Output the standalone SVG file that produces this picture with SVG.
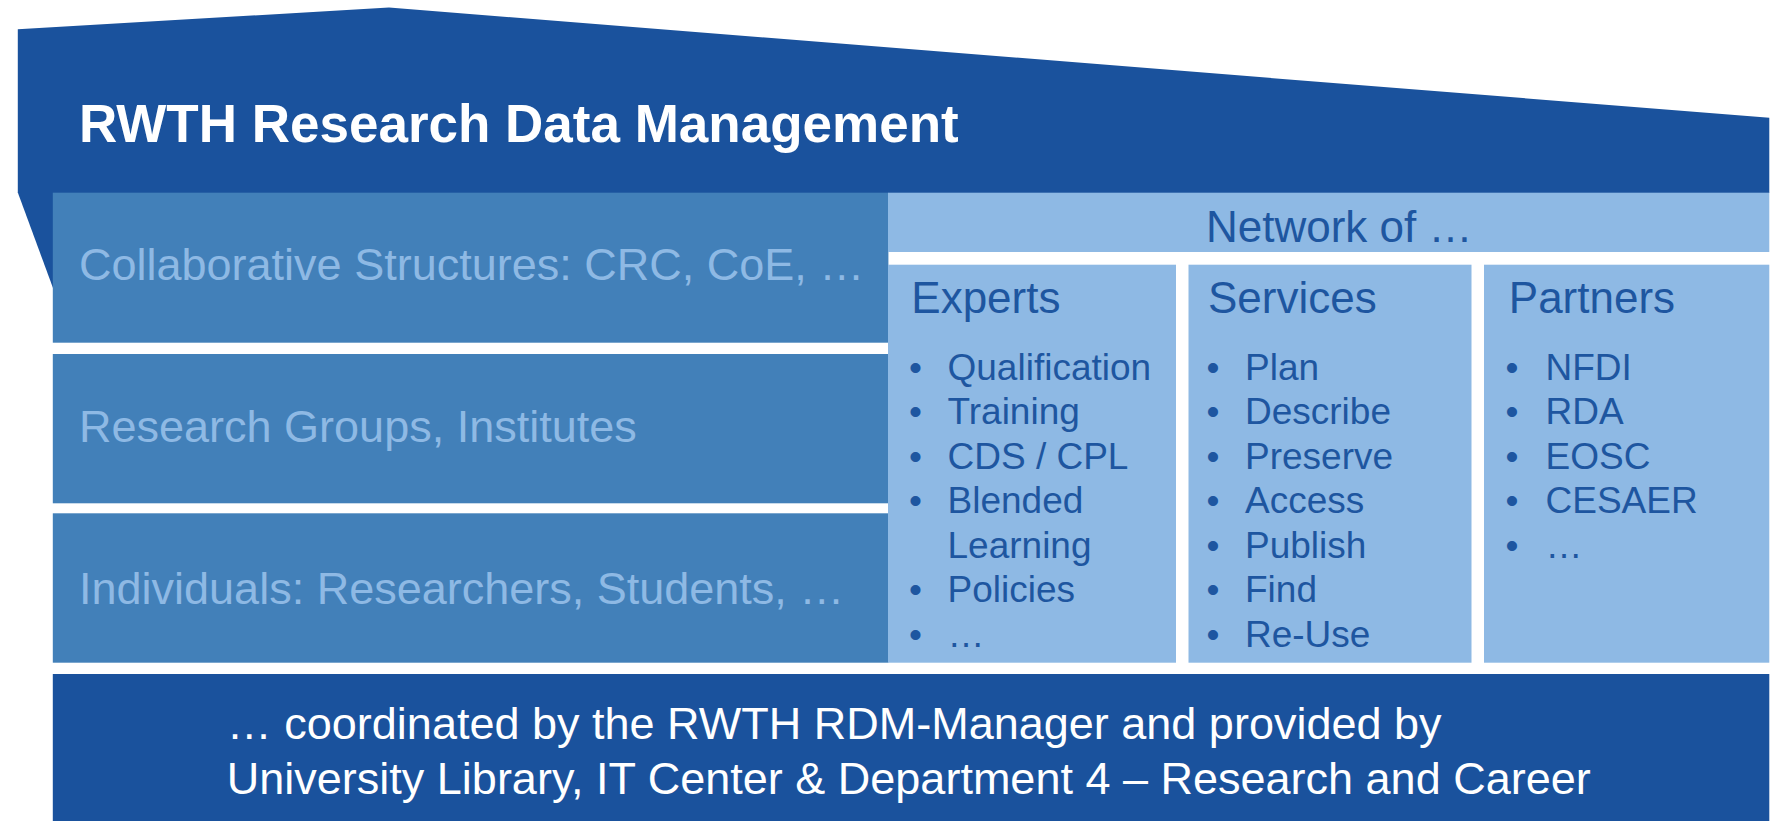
<svg xmlns="http://www.w3.org/2000/svg" width="1775" height="821" viewBox="0 0 1775 821">
<style>
.dark{fill:#1A529D}
.mid{fill:#4280B9}
.light{fill:#8EB9E4}
text{font-family:"Liberation Sans",Arial,sans-serif}
.title{font-size:53px;font-weight:bold;fill:#FFFFFF}
.lbl{font-size:45px;fill:#8EB9E4}
.hdr{font-size:44px;fill:#1E56A0}
.item{font-size:37px;fill:#1E56A0}
.foot{font-size:45px;fill:#FFFFFF}
</style>
<rect width="1775" height="821" fill="#FFFFFF"/>
<g id="roof">
<polygon class="dark" points="17.8,29.3 389,7.5 1769.3,117.8 1769.3,193 17.8,193"/>
<polygon class="dark" points="17.8,192.5 53,192.5 53,288"/>
<text class="title" x="79" y="141.7">RWTH Research Data Management</text>
</g>
<g id="collaborative">
<rect class="mid" x="52.8" y="192.7" width="835.6" height="150"/>
<text class="lbl" x="79" y="280">Collaborative Structures: CRC, CoE, …</text>
</g>
<g id="groups">
<rect class="mid" x="52.8" y="354" width="835.6" height="149.3"/>
<text class="lbl" x="79" y="441.7">Research Groups, Institutes</text>
</g>
<g id="individuals">
<rect class="mid" x="52.8" y="513.3" width="835.6" height="149.4"/>
<text class="lbl" x="79" y="604">Individuals: Researchers, Students, …</text>
</g>
<g id="network">
<rect class="light" x="888" y="192.7" width="881.3" height="59.3"/>
<text class="hdr" x="1206" y="242.3">Network of …</text>
</g>
<g id="experts">
<rect class="light" x="888" y="264.7" width="288" height="398"/>
<text class="hdr" x="911.3" y="312.7">Experts</text>
<g class="item">
<text x="915.4" y="379.5" text-anchor="middle">•</text><text x="947.5" y="379.5">Qualification</text>
<text x="915.4" y="424" text-anchor="middle">•</text><text x="947.5" y="424">Training</text>
<text x="915.4" y="468.6" text-anchor="middle">•</text><text x="947.5" y="468.6">CDS / CPL</text>
<text x="915.4" y="513.2" text-anchor="middle">•</text><text x="947.5" y="513.2">Blended</text>
<text x="947.5" y="557.7">Learning</text>
<text x="915.4" y="602.3" text-anchor="middle">•</text><text x="947.5" y="602.3">Policies</text>
<text x="915.4" y="646.8" text-anchor="middle">•</text><text x="947.5" y="646.8">…</text>
</g>
</g>
<g id="services">
<rect class="light" x="1188.5" y="264.7" width="283" height="398"/>
<text class="hdr" x="1208" y="312.7">Services</text>
<g class="item">
<text x="1213" y="379.5" text-anchor="middle">•</text><text x="1245" y="379.5">Plan</text>
<text x="1213" y="424" text-anchor="middle">•</text><text x="1245" y="424">Describe</text>
<text x="1213" y="468.6" text-anchor="middle">•</text><text x="1245" y="468.6">Preserve</text>
<text x="1213" y="513.2" text-anchor="middle">•</text><text x="1245" y="513.2">Access</text>
<text x="1213" y="557.7" text-anchor="middle">•</text><text x="1245" y="557.7">Publish</text>
<text x="1213" y="602.3" text-anchor="middle">•</text><text x="1245" y="602.3">Find</text>
<text x="1213" y="646.8" text-anchor="middle">•</text><text x="1245" y="646.8">Re-Use</text>
</g>
</g>
<g id="partners">
<rect class="light" x="1484" y="264.7" width="285.3" height="398"/>
<text class="hdr" x="1508.8" y="312.7">Partners</text>
<g class="item">
<text x="1512" y="379.5" text-anchor="middle">•</text><text x="1545.5" y="379.5">NFDI</text>
<text x="1512" y="424" text-anchor="middle">•</text><text x="1545.5" y="424">RDA</text>
<text x="1512" y="468.6" text-anchor="middle">•</text><text x="1545.5" y="468.6">EOSC</text>
<text x="1512" y="513.2" text-anchor="middle">•</text><text x="1545.5" y="513.2">CESAER</text>
<text x="1512" y="557.7" text-anchor="middle">•</text><text x="1545.5" y="557.7">…</text>
</g>
</g>
<g id="foundation">
<rect class="dark" x="52.8" y="674" width="1716.5" height="147"/>
<text class="foot" x="226.8" y="739.3">… coordinated by the RWTH RDM-Manager and provided by</text>
<text class="foot" x="226.8" y="794">University Library, IT Center &amp; Department 4 – Research and Career</text>
</g>
</svg>
